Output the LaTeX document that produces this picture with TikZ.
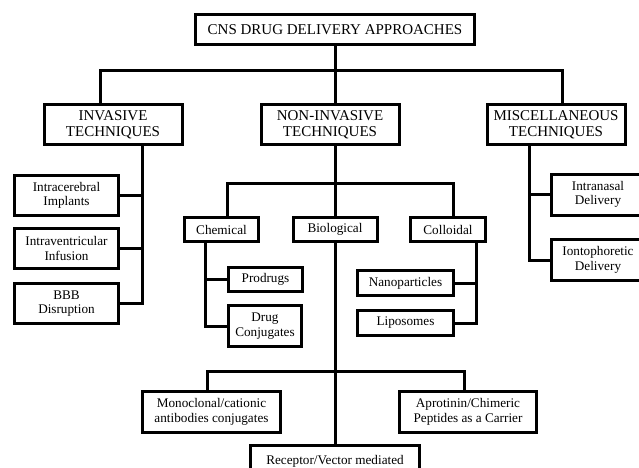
\documentclass[tikz,border=0pt]{standalone}
\usepackage{fontspec}
\setmainfont{Liberation Serif}
\begin{document}
\begin{tikzpicture}[x=1pt,y=-1pt,line width=3pt]
	\tikzstyle{box}=[draw,rectangle,line width=3pt,inner sep=0pt,align=center,font=\fontsize{13.2}{14.6}\selectfont]
	\tikzstyle{capbox}=[box,font=\fontsize{15}{15.8}\selectfont]
	
	\useasboundingbox (0,0) rectangle (639,467);
	\clip (0,0) rectangle (639,467);
	
	\node[capbox,minimum width=279pt,minimum height=30pt] (B-top) at (335,29.5) {CNS DRUG DELIVERY APPROACHES};
	
	\foreach \name/\x/\txt in {inv/113/{INVASIVE\\TECHNIQUES}, non/330/{NON-INVASIVE\\TECHNIQUES}, misc/556/{MISCELLANEOUS\\TECHNIQUES}}
	\node[capbox,minimum width=138pt,minimum height=40pt] (B-\name) at (\x,124.5) {\txt};
	
	\foreach \name/\y/\txt in {icb/195.5/{Intracerebral\\Implants}, ivt/248.5/{Intraventricular\\Infusion}, bbb/303.5/{BBB\\Disruption}}
	\node[box,minimum width=104pt,minimum height=40pt] (B-\name) at (66.5,\y) {\txt};
	
	\foreach \name/\x/\w/\txt in {chem/221.5/74/Chemical, bio/335/84/Biological, coll/448/75/Colloidal}
	\node[box,minimum width=\w pt,minimum height=24pt] (B-\name) at (\x,229.5) {\txt};
	
	\node[box,minimum width=74pt,minimum height=24pt] (B-prod) at (265.5,279.5) {Prodrugs};
	\node[box,minimum width=73pt,minimum height=41pt] (B-conj) at (265,326) {Drug\\Conjugates};
	\node[box,minimum width=96pt,minimum height=25pt] (B-nano) at (405.5,283) {Nanoparticles};
	\node[box,minimum width=96pt,minimum height=25pt] (B-lipo) at (405.5,323) {Liposomes};
	
	\foreach \name/\y/\txt in {inas/194.5/{Intranasal\\Delivery}, ionto/260/{Iontophoretic\\Delivery}}
	\node[box,minimum width=93pt,minimum height=41pt] (B-\name) at (598,\y) {\txt};
	
	\node[box,minimum width=138pt,minimum height=41pt] (B-mono) at (211.5,412) {Monoclonal/cationic\\antibodies conjugates};
	\node[box,minimum width=137pt,minimum height=41pt] (B-apro) at (468,412) {Aprotinin/Chimeric\\Peptides as a Carrier};
	\node[box,anchor=north,minimum width=169pt,minimum height=44pt] (B-recep) at (335,444) {Receptor/Vector mediated\\\mbox{}};
	
	% first level
	\coordinate (bus-top) at (335,70);
	\draw (B-top) -- (bus-top);
	\foreach \to/\dx in {inv/-13,non/5,misc/6}
	\draw (bus-top) -| ([xshift=\dx pt]B-\to.north);
	
	% invasive
	\foreach \to in {icb,ivt,bbb}
	\draw ([xshift=29pt]B-inv.south) |- (B-\to.east);
	
	% non-invasive
	\coordinate (bus-non) at (335,183);
	\draw ([xshift=5pt]B-non.south) -- (bus-non);
	\foreach \to/\dx in {chem/5.5,bio/0,coll/5}
	\draw (bus-non) -| ([xshift=\dx pt]B-\to.north);
	
	\foreach \to in {prod,conj}
	\draw ([xshift=-16.5pt]B-chem.south) |- (B-\to.west);
	
	\foreach \to in {nano,lipo}
	\draw ([xshift=28pt]B-coll.south) |- (B-\to.east);
	
	\coordinate (bus-bio) at (335,371);
	\draw (B-bio) -- (B-recep);
	\foreach \to/\dx in {mono/-4.5,apro/-4}
	\draw (bus-bio) -| ([xshift=\dx pt]B-\to.north);
	
	% miscellaneous
	\foreach \to in {inas,ionto}
	\draw ([xshift=-27pt]B-misc.south) |- (B-\to.west);
	
\end{tikzpicture}
\end{document}
